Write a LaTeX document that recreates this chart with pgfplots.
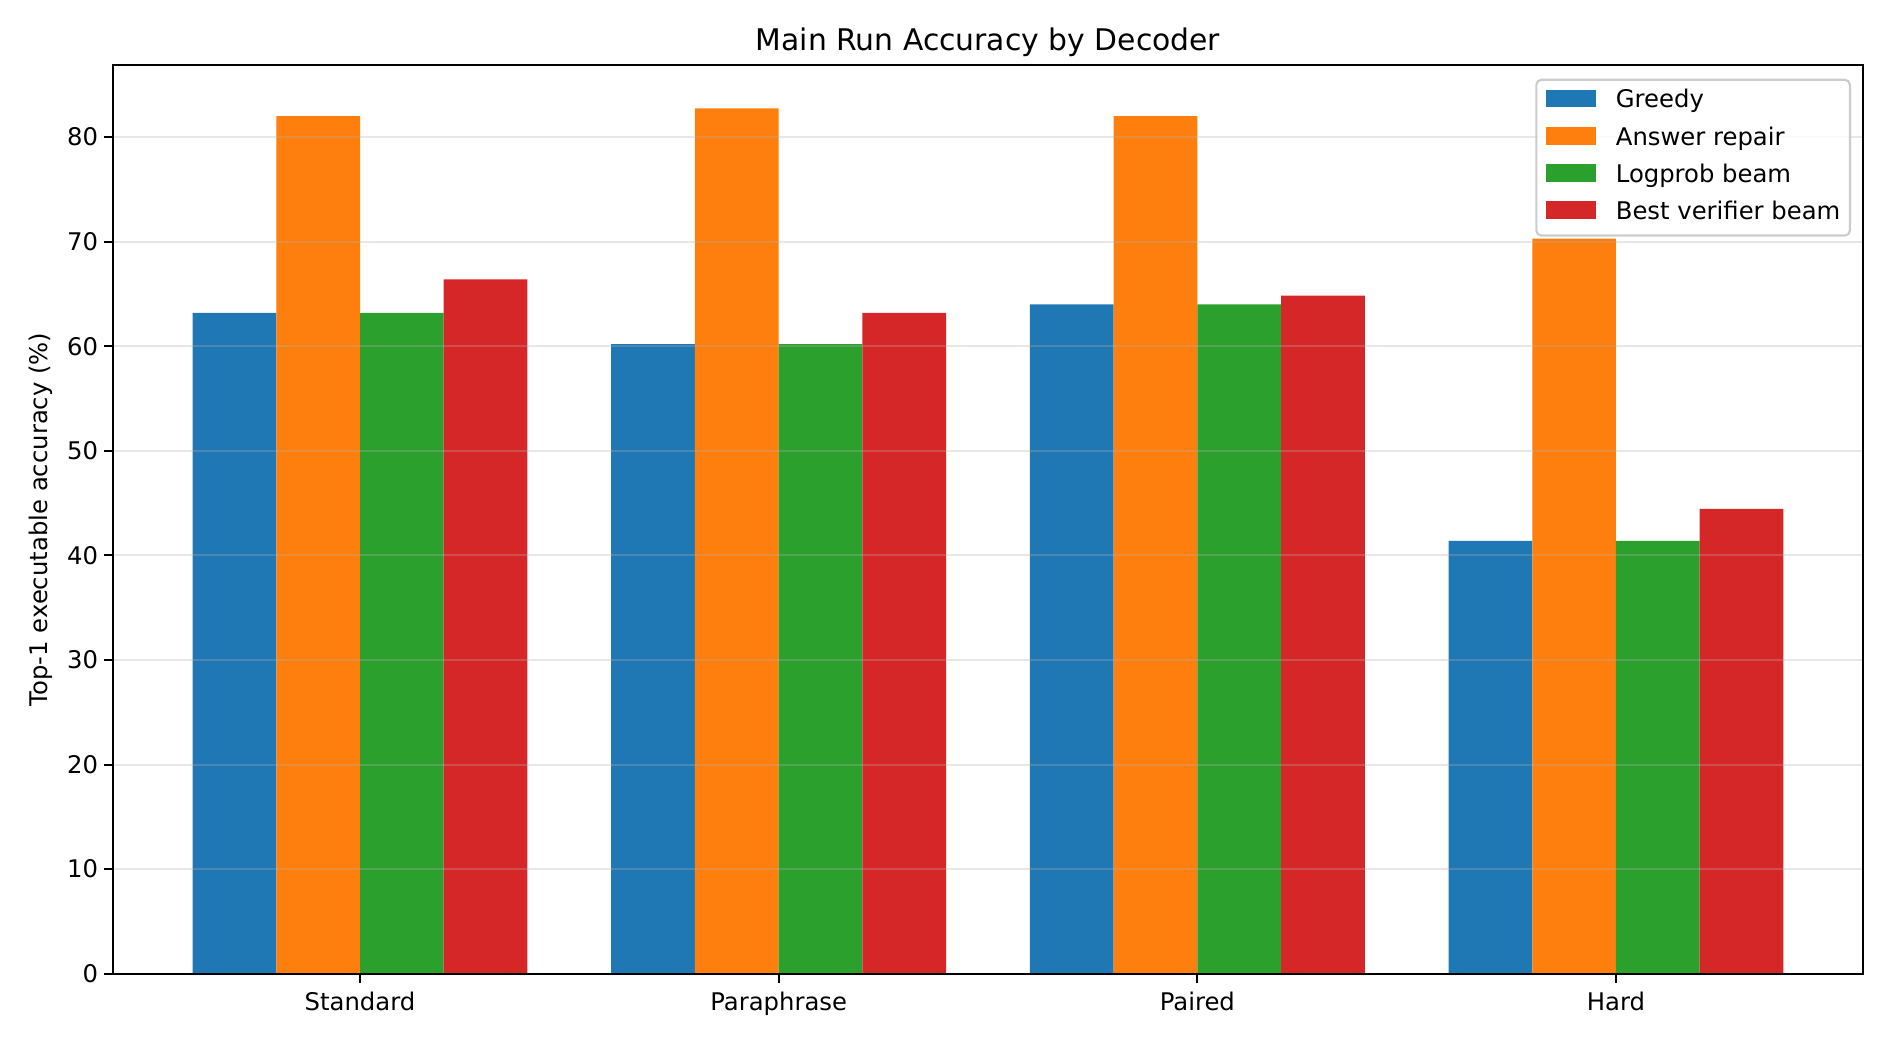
\documentclass[border=0pt]{standalone}
\usepackage{fontspec}
\setmainfont{DejaVu Sans}
\usepackage{pgfplots}
\pgfplotsset{compat=1.18}
\definecolor{tabblue}{HTML}{1F77B4}
\definecolor{taborange}{HTML}{FF7F0E}
\definecolor{tabgreen}{HTML}{2CA02C}
\definecolor{tabred}{HTML}{D62728}
\definecolor{gridgray}{HTML}{B0B0B0}
\definecolor{legframe}{HTML}{CCCCCC}
\newcommand{\basefont}{\fontsize{24.3pt}{29pt}\selectfont}
\pgfplotsset{
  barlegend/.style={legend image code/.code={%
    \fill[##1, sharp corners, fill opacity=1, draw=none] (0pt,-5.5pt) rectangle (50pt,12.2pt);}},
}
\begin{document}
\begin{tikzpicture}
\path (0,0) rectangle (1890pt,1044pt);
\begin{axis}[
  at={(113pt,70.3pt)}, anchor=south west,
  width=1750pt, height=908.7pt, scale only axis,
  xmin=-0.59, xmax=3.59, ymin=0, ymax=86.9,
  ybar, bar width=0.2,
  xtick={0,1,2,3}, xticklabels={Standard,Paraphrase,Paired,Hard},
  ytick={0,10,...,80},
  tick align=outside, tick pos=left, major tick length=9pt,
  major tick style={line width=1.9pt, black},
  axis line style={line width=1.9pt},
  axis on top,
  ymajorgrids, grid style={line width=1.9pt, gridgray, opacity=0.3},
  /pgf/number format/assume math mode=true,
  tick label style={font=\basefont},
  yticklabel style={anchor=east, inner sep=0pt, xshift=-5.7pt},
  xticklabel style={anchor=base, inner sep=0pt, yshift=-27.3pt},
  title={Main Run Accuracy by Decoder},
  title style={font=\fontsize{29.8pt}{36pt}\selectfont, at={(axis description cs:0.5,1)}, anchor=base, yshift=8pt},
  ylabel={Top-1 executable accuracy (\%)},
  every axis y label/.style={at={(axis description cs:-0.0374,0.5)}, rotate=90, anchor=base, font=\basefont},
  legend cell align=left,
  legend style={at={(axis description cs:1,1)}, anchor=north east, xshift=-12pt, yshift=-13.7pt,
    draw=legframe, line width=2.2pt, rounded corners=5pt, fill=white, fill opacity=0.8, text opacity=1,
    font=\basefont, inner xsep=9.5pt, inner ysep=10pt, row sep=13pt, column sep=20pt,
    nodes={inner sep=0pt, text height=18pt, text depth=6pt}},
]
\addplot[fill=tabblue, draw=none, bar shift=-0.3, barlegend]
  coordinates {(0,63.2) (1,60.2) (2,64.0) (3,41.4)};
\addplot[fill=taborange, draw=none, bar shift=-0.1, barlegend]
  coordinates {(0,82.0) (1,82.75) (2,82.0) (3,70.3)};
\addplot[fill=tabgreen, draw=none, bar shift=0.1, barlegend]
  coordinates {(0,63.2) (1,60.2) (2,64.0) (3,41.4)};
\addplot[fill=tabred, draw=none, bar shift=0.3, barlegend]
  coordinates {(0,66.4) (1,63.2) (2,64.85) (3,44.45)};
\legend{Greedy, Answer repair, Logprob beam, Best verifier beam}
\end{axis}
\end{tikzpicture}
\end{document}
